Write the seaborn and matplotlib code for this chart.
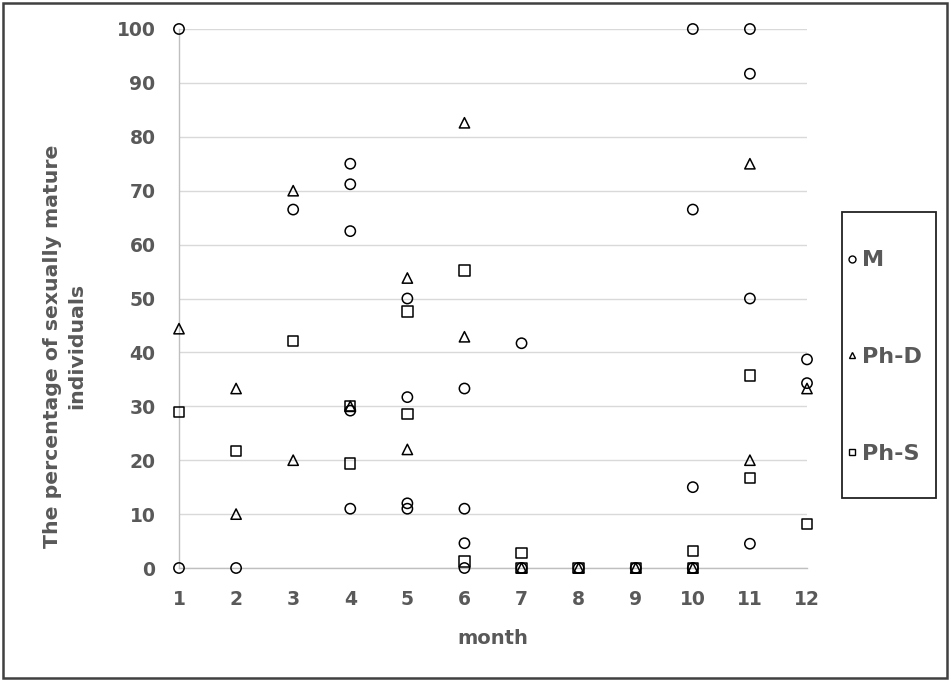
import matplotlib
matplotlib.use("Agg")
import matplotlib.pyplot as plt
import seaborn as sns
import pandas as pd
from matplotlib.patches import Rectangle

# ---- data ----
m_month = [1, 1, 2, 3, 4, 4, 4, 4, 4, 5, 5, 5, 5, 6, 6, 6, 6, 7, 7, 8, 9, 10, 10, 10, 10, 11, 11, 11, 11, 12, 12]
m_value = [100, 0, 0, 66.5, 75, 71.2, 62.5, 29.2, 11, 50, 31.7, 12, 11, 33.3, 11, 4.6, 0, 41.7, 0, 0, 0, 100, 66.5, 15, 0, 100, 91.7, 50, 4.5, 38.7, 34.3]

phd_month = [1, 2, 2, 3, 3, 4, 5, 5, 6, 6, 7, 8, 9, 10, 11, 11, 12]
phd_value = [44.4, 33.3, 10, 70, 20, 30, 53.8, 22, 82.6, 42.9, 0, 0, 0, 0, 75, 20, 33.3]

phs_month = [1, 2, 3, 4, 4, 5, 5, 6, 6, 7, 7, 8, 9, 10, 10, 11, 11, 12]
phs_value = [28.9, 21.7, 42.1, 30, 19.4, 47.6, 28.6, 55.2, 1.2, 2.8, 0, 0, 0, 3.1, 0, 35.7, 16.7, 8.2]

series_names = ["M", "Ph-D", "Ph-S"]
series_markers = ["o", "^", "s"]
months = list(range(1, 13))
yticks = list(range(0, 101, 10))

df = pd.concat([
    pd.DataFrame({"month": m_month, "value": m_value, "series": "M"}),
    pd.DataFrame({"month": phd_month, "value": phd_value, "series": "Ph-D"}),
    pd.DataFrame({"month": phs_month, "value": phs_value, "series": "Ph-S"}),
], ignore_index=True)

sns.set_style("white")
plt.rcParams["font.family"] = ["DejaVu Sans"]

GRAY = "#595959"

fig = plt.figure(figsize=(9.51, 6.81), dpi=100)
ax = fig.add_axes([179 / 951, 1 - 568 / 681, (807 - 179) / 951, (568 - 29) / 681])

handles = []
for name, mk in zip(series_names, series_markers):
    sub = df[df["series"] == name]
    sns.scatterplot(data=sub, x="month", y="value", marker=mk, s=55,
                    facecolors="none", edgecolors="black", linewidth=1.1,
                    ax=ax, clip_on=False, zorder=5, legend=False)
    handles.append(plt.Line2D([], [], linestyle="none", marker=mk, markersize=5,
                              markerfacecolor="none", markeredgecolor="black",
                              markeredgewidth=1.0, label=name))

ax.set_xlim(1, 12)
ax.set_ylim(0, 100)
ax.set_xticks(months)
ax.set_yticks(yticks)
ax.yaxis.grid(True, color="#d9d9d9", linewidth=1.0)
ax.xaxis.grid(False)
ax.set_axisbelow(True)
for s in ["top", "right"]:
    ax.spines[s].set_visible(False)
ax.spines["left"].set_color("#bfbfbf")
ax.spines["bottom"].set_color("#bfbfbf")
ax.spines["left"].set_linewidth(1.0)
ax.spines["bottom"].set_linewidth(1.0)
ax.tick_params(axis="both", length=0, labelsize=13.5, labelcolor=GRAY)
ax.tick_params(axis="y", pad=17)
ax.tick_params(axis="x", pad=16)
for lab in ax.get_xticklabels() + ax.get_yticklabels():
    lab.set_fontweight("bold")

ax.set_xlabel("month", fontsize=14, fontweight="bold", color=GRAY, labelpad=14)
ax.set_ylabel("The percentage of sexually mature\nindividuals", fontsize=14.7,
              fontweight="bold", color=GRAY, linespacing=1.3)
ax.yaxis.set_label_coords((86 - 179) / 628, (568 - 346) / 539)

# legend with a separately drawn frame
leg = fig.legend(handles=handles, loc="center left",
                 bbox_to_anchor=(845 / 951, 1 - 357 / 681),
                 frameon=False, labelspacing=3.45, handlelength=0.6,
                 handletextpad=0.15, borderpad=0, borderaxespad=0,
                 prop={"size": 16, "weight": "bold"})
for t in leg.get_texts():
    t.set_color(GRAY)

fig.patches.append(Rectangle((842 / 951, 1 - 498 / 681), 94 / 951, 286 / 681,
                             transform=fig.transFigure, fill=False,
                             edgecolor="#222222", linewidth=1.3))
fig.patches.append(Rectangle((3 / 951, 3 / 681), 944 / 951, 675 / 681,
                             transform=fig.transFigure, fill=False,
                             edgecolor="#404040", linewidth=1.8))

fig.savefig("out.png", dpi=100)
